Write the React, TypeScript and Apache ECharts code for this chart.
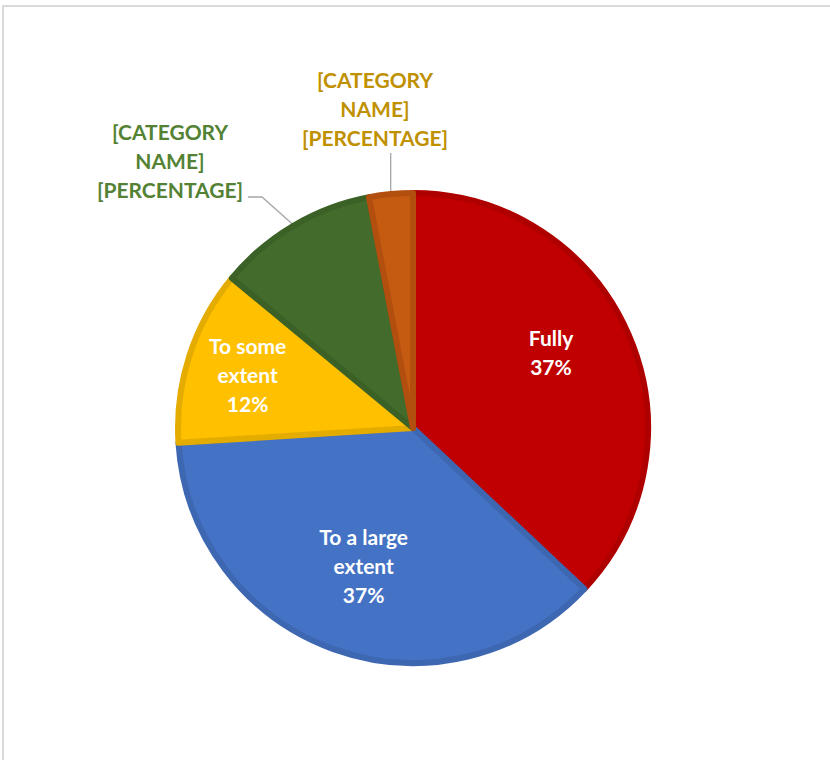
import React, { useEffect, useRef } from "react";
import * as echarts from "echarts";

const categories = ["Fully", "To a large extent", "To some extent", "To a small extent", "Not at all"];
const values = [37, 37, 12, 11, 3];
const labelTexts = [
  "Fully\n37%",
  "To a large\nextent\n37%",
  "To some\nextent\n12%",
  "[CATEGORY\nNAME]\n[PERCENTAGE]",
  "[CATEGORY\nNAME]\n[PERCENTAGE]",
];
const fillColors = ["#C00000", "#4472C4", "#FFC000", "#436B2B", "#C55A11"];
const borderColors = ["#AF0000", "#3E67B2", "#E5AC00", "#3C6127", "#B24F0E"];
const labelColors = ["#FFFFFF", "#FFFFFF", "#FFFFFF", "#548235", "#BF9000"];

const CX = 413;
const CY = 428;
const R = 235;
const insideFrac = [0.67, 0.62, 0.74];
const insideAngleShift = [-5.4, 0, 0];

export default function App() {
  const ref = useRef<HTMLDivElement>(null);
  useEffect(() => {
    if (!ref.current) return;
    const chart = echarts.init(ref.current, null, { renderer: "svg" });
    const total = values.reduce((a, b) => a + b, 0);
    const mids: number[] = [];
    let acc = 0;
    values.forEach((v) => {
      mids.push(((acc + v / 2) / total) * 360);
      acc += v;
    });
    const edge = (i: number, r: number, shift = 0) => {
      const a = ((mids[i] + shift) * Math.PI) / 180;
      return [CX + r * Math.sin(a), CY - r * Math.cos(a)];
    };
    const font = "Lato";
    chart.setOption({
      animation: false,
      backgroundColor: "#ffffff",
      graphic: [
        {
          type: "rect",
          silent: true,
          shape: { x: 3, y: 6, width: 900, height: 900 },
          style: { fill: "none", stroke: "#d9d9d9", lineWidth: 2 },
        },
      ],
      series: [
        {
          type: "pie",
          center: [CX, CY],
          radius: [0, R],
          startAngle: 90,
          clockwise: true,
          silent: true,
          percentPrecision: 0,
          emphasis: { disabled: true },
          data: values.map((v, i) => ({
            name: categories[i],
            value: v,
            itemStyle: {
              color: fillColors[i],
              borderColor: borderColors[i],
              borderWidth: 6,
              borderJoin: "round",
            },
            label: {
              show: true,
              position: i < 3 ? "inside" : "outside",
              formatter: labelTexts[i],
              color: labelColors[i],
              fontFamily: font,
              fontWeight: "bold",
              fontSize: 21,
              lineHeight: 29,
              align: "center",
            },
            labelLine: {
              show: i >= 3,
              lineStyle: { color: "#a6a6a6", width: 1.3 },
            },
          })),
          labelLayout: (params: any) => {
            const i = params.dataIndex;
            if (i < 3) {
              const p = edge(i, R * insideFrac[i], insideAngleShift[i]);
              return { x: p[0], y: p[1], align: "center", verticalAlign: "middle" };
            }
            const e = edge(i, R + 2);
            if (i === 3) {
              return {
                x: 170,
                y: 160,
                align: "center",
                verticalAlign: "middle",
                labelLinePoints: [e, [262, 197], [248, 197]],
              };
            }
            return {
              x: 375,
              y: 108,
              align: "center",
              verticalAlign: "middle",
              labelLinePoints: [e, [e[0], 170], [e[0], 153]],
            };
          },
        },
      ],
    });
    return () => chart.dispose();
  }, []);
  return (
    <div
      ref={ref}
      style={{ position: "absolute", left: 0, top: 0, width: 830, height: 760 }}
    />
  );
}
